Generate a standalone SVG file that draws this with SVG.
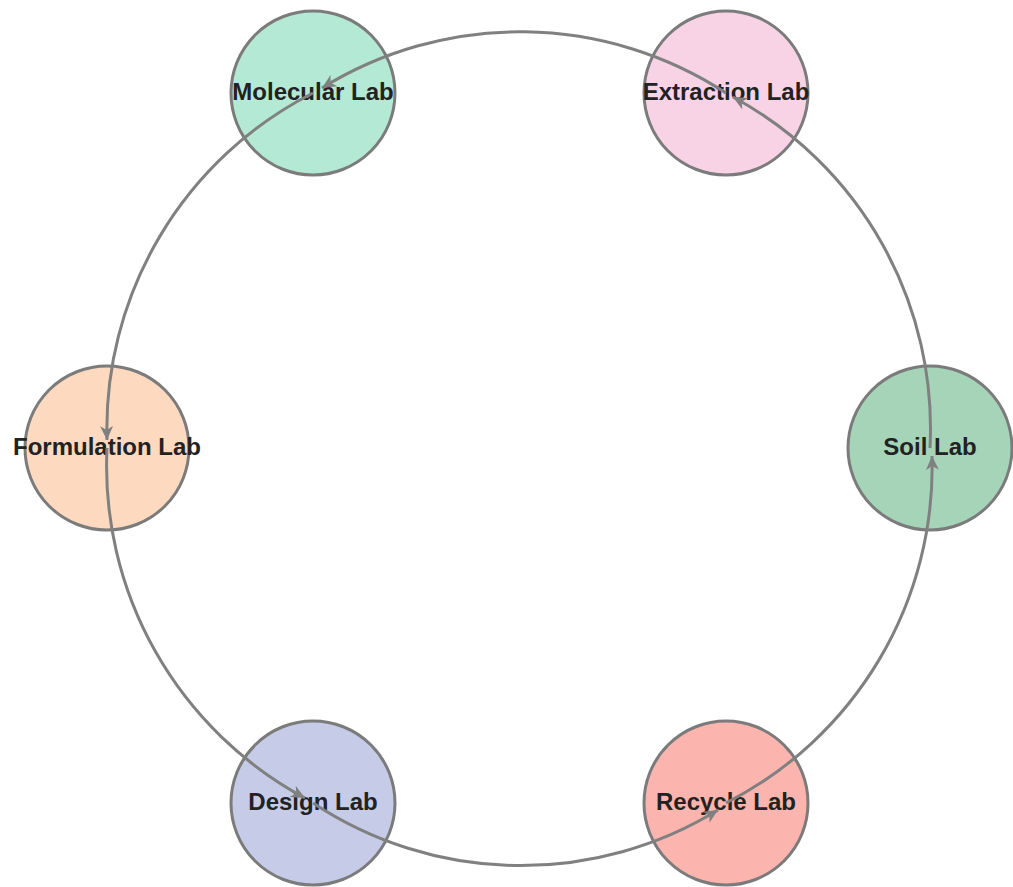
<svg xmlns="http://www.w3.org/2000/svg" width="1013" height="887" viewBox="0 0 1013 887">
<style>
.node circle{stroke:#7b7b7b;stroke-width:3}
.node text{font-family:"Liberation Sans",Arial,sans-serif;font-weight:bold;font-size:24px;fill:#222;text-anchor:middle}
.edge{fill:none;stroke:#808080;stroke-width:3}
</style>
<defs>
<marker id="arr" markerUnits="userSpaceOnUse" markerWidth="16" markerHeight="14" refX="14" refY="7" orient="auto">
<path d="M0,0.5 L14,7 L0,13.5 L4,7 z" fill="#808080"/>
</marker>
</defs>
<rect width="1013" height="887" fill="#ffffff"/>
<g id="node-molecular" class="node"><circle cx="313" cy="93" r="82" fill="#b3e9d5"/><text x="313" y="100">Molecular Lab</text></g>
<g id="node-extraction" class="node"><circle cx="726" cy="93" r="82" fill="#f8d3e5"/><text x="726" y="100">Extraction Lab</text></g>
<g id="node-soil" class="node"><circle cx="930" cy="448" r="82" fill="#a6d4b9"/><text x="930" y="455">Soil Lab</text></g>
<g id="node-formulation" class="node"><circle cx="107" cy="448" r="82" fill="#fdd9bf"/><text x="107" y="455">Formulation Lab</text></g>
<g id="node-design" class="node"><circle cx="313" cy="803" r="82" fill="#c6cce8"/><text x="313" y="810">Design Lab</text></g>
<g id="node-recycle" class="node"><circle cx="726" cy="803" r="82" fill="#fbb4ae"/><text x="726" y="810">Recycle Lab</text></g>
<g id="connectors">
<path class="edge" marker-end="url(#arr)" d="M726,93 A377,377 0 0 0 322,88"/>
<path class="edge" marker-end="url(#arr)" d="M313,93 A377,377 0 0 0 107,440"/>
<path class="edge" marker-end="url(#arr)" d="M107,448 A377,377 0 0 0 305,798"/>
<path class="edge" marker-end="url(#arr)" d="M313,803 A377,377 0 0 0 718,810"/>
<path class="edge" marker-end="url(#arr)" d="M726,803 A377,377 0 0 0 932,456"/>
<path class="edge" marker-end="url(#arr)" d="M930,448 A377,377 0 0 0 733,97"/>
</g>
</svg>
